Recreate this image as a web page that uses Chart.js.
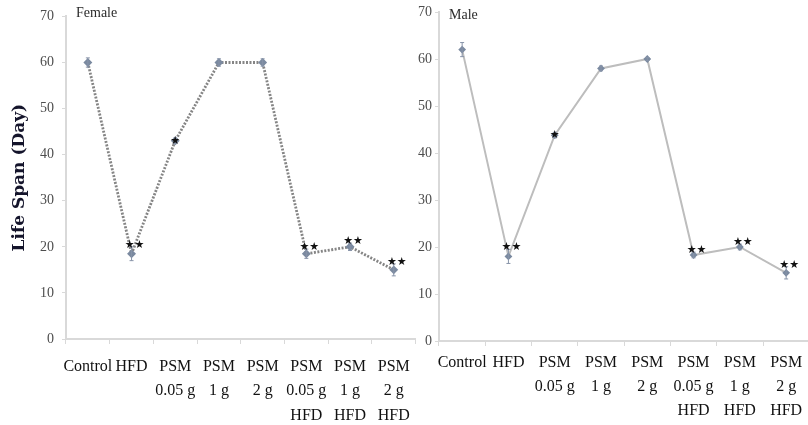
<!DOCTYPE html>
<html lang="en">
<head>
<meta charset="UTF-8">
<title>Life Span</title>
<script src="https://cdn.jsdelivr.net/npm/chart.js@4.4.1/dist/chart.umd.min.js"></script>
<style>
    html, body { margin: 0; padding: 0; background: #fff; overflow: hidden; width: 808px; height: 425px; }
    canvas { position: absolute; top: 0; }
    #femaleChart { left: 0; }
    #maleChart { left: 400px; }
</style>
</head>
<body>
<canvas id="femaleChart" width="430" height="425"></canvas>
<canvas id="maleChart" width="420" height="425"></canvas>
<script>
// groups on the x axis
const categories = [
    'Control',
    'HFD',
    ['PSM', '0.05 g'],
    ['PSM', '1 g'],
    ['PSM', '2 g'],
    ['PSM', '0.05 g', 'HFD'],
    ['PSM', '1 g', 'HFD'],
    ['PSM', '2 g', 'HFD']
];
const yTicks = [0, 10, 20, 30, 40, 50, 60, 70];

// life span in days
const femaleMeans  = [60, 18.5, 43, 60, 60, 18.5, 20, 15];
const femaleErrors = [1, 1.5, 0.6, 0.8, 0.8, 1, 0.8, 1.3];
const maleMeans    = [62, 18, 43.8, 58, 60, 18.3, 20, 14.5];
const maleErrors   = [1.5, 1.5, 0.6, 0.5, 0.3, 0.6, 0.6, 1.3];
// significance marks
const femaleMarks  = ['', '★★', '★', '', '', '★★', '★★', '★★'];
const maleMarks    = ['', '★★', '★', '', '', '★★', '★★', '★★'];

const errorBars = {
    id: 'errorBars',
    afterDatasetsDraw(chart, args, opts) {
        const ctx = chart.ctx;
        const xs = chart.scales.x, ys = chart.scales.y;
        ctx.save();
        ctx.strokeStyle = '#8793a8';
        ctx.lineWidth = 1;
        opts.means.forEach((m, i) => {
            const px = xs.getPixelForValue(i);
            const top = ys.getPixelForValue(m + opts.errors[i]);
            const bot = ys.getPixelForValue(m - opts.errors[i]);
            ctx.beginPath();
            ctx.moveTo(px, top); ctx.lineTo(px, bot);
            ctx.moveTo(px - 2, top); ctx.lineTo(px + 2, top);
            ctx.moveTo(px - 2, bot); ctx.lineTo(px + 2, bot);
            ctx.stroke();
        });
        ctx.fillStyle = '#111';
        ctx.font = '11px "DejaVu Sans"';
        ctx.textAlign = 'center';
        ctx.textBaseline = 'middle';
        opts.marks.forEach((s, i) => {
            if (!s) return;
            const px = xs.getPixelForValue(i);
            const top = ys.getPixelForValue(opts.means[i] + opts.errors[i]);
            // a single mark sits on the point, pairs sit just above it
            if (s.length === 1) ctx.fillText(s, px, ys.getPixelForValue(opts.means[i]));
            else ctx.fillText(s, px + 3, top - 2);
        });
        ctx.fillStyle = '#2b2b2b';
        ctx.font = '14px "Liberation Serif"';
        ctx.textAlign = 'left';
        ctx.fillText(opts.label, chart.chartArea.left + 10, opts.labelY);
        ctx.restore();
    }
};

function makeChart(id, means, errors, marks, label, cfg) {
    return new Chart(document.getElementById(id), {
        type: 'line',
        data: {
            labels: categories,
            datasets: [{
                data: means,
                borderColor: cfg.lineColor,
                borderWidth: cfg.lineWidth,
                borderDash: cfg.dash,
                pointStyle: 'rectRot',
                pointRadius: 2.5,
                pointBackgroundColor: '#7b8aa0',
                pointBorderColor: '#7b8aa0',
                tension: 0
            }]
        },
        options: {
            responsive: false,
            animation: false,
            layout: { padding: { top: cfg.top, right: cfg.right, left: 0, bottom: 0 } },
            plugins: {
                legend: { display: false },
                tooltip: { enabled: false },
                errorBars: { means: means, errors: errors, marks: marks, label: label, labelY: cfg.labelY }
            },
            scales: {
                x: {
                    offset: true,
                    ticks: {
                        color: '#111',
                        font: { family: 'Liberation Serif', size: 16, lineHeight: cfg.xLine },
                        padding: cfg.xPad,
                        maxRotation: 0,
                        autoSkip: false
                    },
                    grid: { offset: true, drawOnChartArea: false, tickLength: 5, color: '#d9d9d9' },
                    border: { color: '#d9d9d9', width: 2 },
                    afterFit(s) { s.height = cfg.xHeight; }
                },
                y: {
                    min: 0,
                    max: 70,
                    afterBuildTicks(s) { s.ticks = yTicks.map(v => ({ value: v })); },
                    ticks: {
                        color: '#4d4d4d',
                        font: { family: 'Liberation Serif', size: 14 },
                        padding: cfg.yPad
                    },
                    grid: { drawOnChartArea: false, tickLength: 4, color: '#d9d9d9' },
                    border: { color: '#d9d9d9', width: 2 },
                    title: {
                        display: cfg.showTitle,
                        text: 'Life Span (Day)',
                        color: '#14142b',
                        font: { family: 'DejaVu Serif', size: 17, weight: 'bold' },
                        padding: { top: 9, bottom: 0 }
                    },
                    afterFit(s) { s.width = cfg.yWidth; }
                }
            }
        },
        plugins: [errorBars]
    });
}

makeChart('femaleChart', femaleMeans, femaleErrors, femaleMarks, 'Female', {
    lineColor: '#858585', lineWidth: 2.8, dash: [2, 1.5],
    top: 13, right: 14.4, xHeight: 86, xPad: 10.5, xLine: 1.52,
    yWidth: 66, yPad: 8, showTitle: true, labelY: 13
});

makeChart('maleChart', maleMeans, maleErrors, maleMarks, 'Male', {
    lineColor: '#bdbdbd', lineWidth: 2, dash: [],
    top: 12, right: 10.7, xHeight: 84, xPad: 4.7, xLine: 1.5,
    yWidth: 39, yPad: 3, showTitle: false, labelY: 15
});
</script>
</body>
</html>
